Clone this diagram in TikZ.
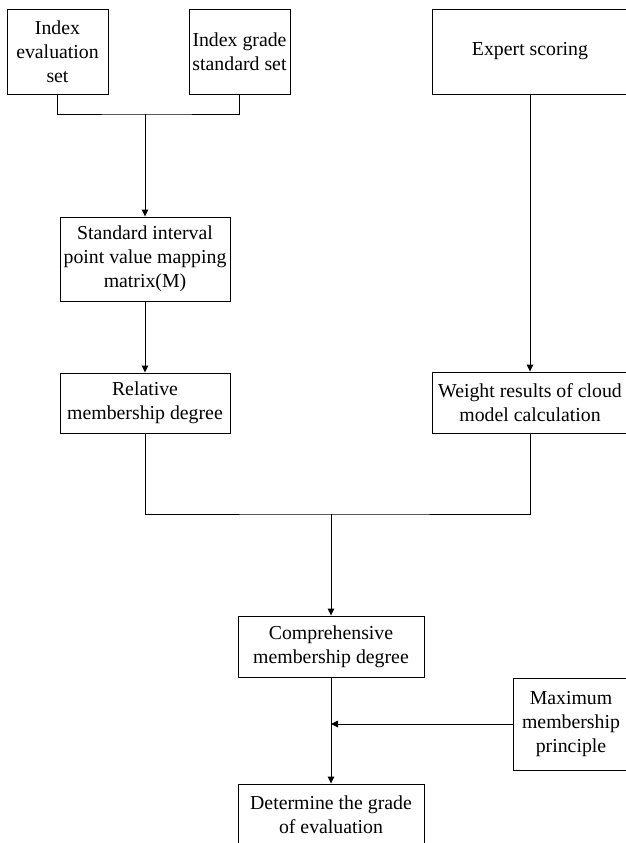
\documentclass[tikz,border=0pt]{standalone}
\usepackage{fontspec}
\setmainfont{Liberation Serif}
\usepackage{tikz}
\usetikzlibrary{arrows.meta}
\tikzset{box/.style={draw, align=center, inner sep=0pt, font=\fontsize{19.8}{24}\selectfont},
  flow/.style={line width=0.9pt}}

\begin{document}
\begin{tikzpicture}[x=1pt, y=-1pt, line width=0.9pt, >={Triangle[length=7pt,width=6.5pt]}]
      \useasboundingbox (0,0) rectangle (626,843);

      \node [box, minimum width=101pt, minimum height=85pt] (ies) at (57.5, 51.5) {Index\\evaluation\\set};
      \node [box, minimum width=101pt, minimum height=85pt] (igs) at (239.5, 51.5) {Index grade\\standard set};
      \node [box, minimum width=196pt, minimum height=85pt] (exp) at (530, 51.5) {Expert scoring};

      \node [box, minimum width=170pt, minimum height=84pt] (mat) at (145, 259) {Standard interval\\point value mapping\\matrix(M)};
      \node [box, minimum width=170pt, minimum height=60pt] (rel) at (145, 403) {Relative\\membership degree};
      \node [box, minimum width=196pt, minimum height=61pt] (wgt) at (530, 402.5) {Weight results of cloud\\model calculation};

      \node [box, minimum width=186pt, minimum height=61pt] (comp) at (331, 646.5) {Comprehensive\\membership degree};
      \node [box, minimum width=116pt, minimum height=92pt] (maxp) at (571, 724) {Maximum\\membership\\principle};
      \node [box, minimum width=186pt, minimum height=61pt] (det) at (331, 814.5) {Determine the grade\\of evaluation};

      \coordinate (j1) at (145, 114);
      \coordinate (j2) at (331, 514);

      \draw (ies.south) |- (j1) -| (igs.south);
      \draw [->] (j1) -- (mat.north);
      \draw [->] (mat.south) -- (rel.north);
      \draw [->] (exp.south) -- (wgt.north);

      \draw (rel.south) |- (j2) -| (wgt.south);
      \draw [->] (j2) -- (comp.north);
      \draw [->] (comp.south) -- (det.north);
      \draw [->] (maxp.west) -- (maxp.west -| comp.south);
    \end{tikzpicture}
\end{document}
